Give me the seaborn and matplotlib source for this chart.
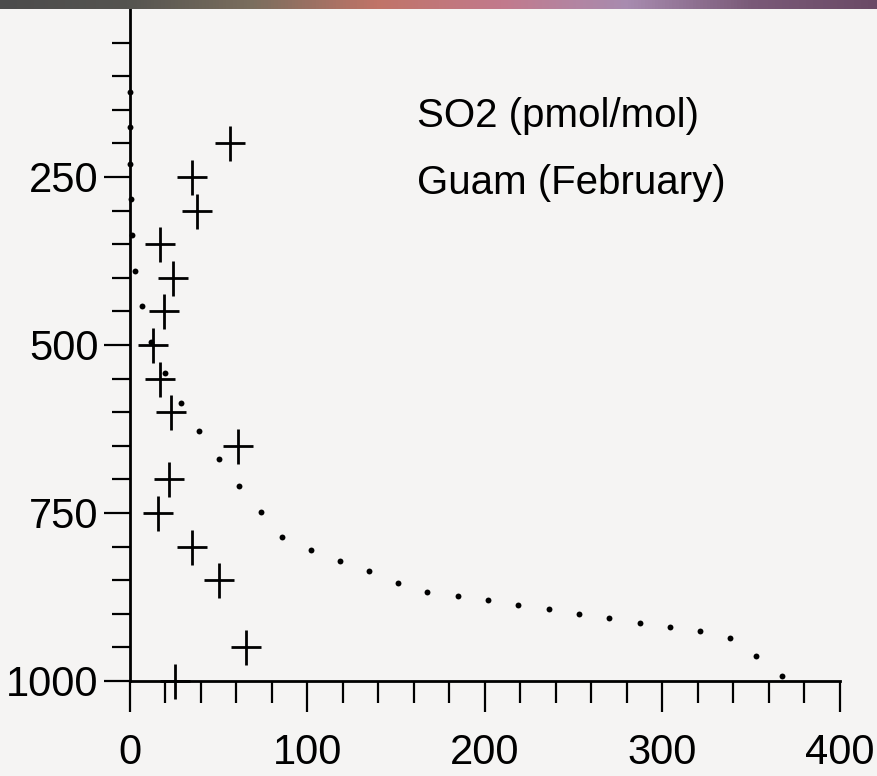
import numpy as np
import matplotlib
matplotlib.use("Agg")
import matplotlib.pyplot as plt
from matplotlib.path import Path
from matplotlib.colors import LinearSegmentedColormap
from matplotlib.ticker import MultipleLocator, FixedLocator
import seaborn as sns

# Model profile (dots): SO2 vs pressure level
model_so2 = [0, 0, 0.2, 0.7, 1.3, 3.0, 6.6, 11.8, 19.7, 28.6, 39.0, 50.1, 61.6,
             73.6, 85.8, 101.8, 118.1, 134.6, 151.0, 167.5, 184.6, 201.7, 218.8,
             235.9, 253.0, 270.0, 287.2, 304.2, 321.3, 337.9, 352.8, 367.3]
model_pres = [123, 176, 230, 283, 336, 390, 442, 495, 541, 586, 628, 670, 710,
              748, 786, 805, 821, 837, 854, 868, 874, 880, 887, 893, 900, 906,
              913, 919, 925, 936, 963, 992]

# Observations (crosses)
obs_so2 = [56.2, 35.1, 37.9, 17.1, 24.1, 19.2, 12.8, 17.1, 22.9, 61.0, 22.0,
           15.9, 35.1, 50.1, 65.2, 25.2]
obs_pres = [200, 250, 300, 350, 400, 450, 500, 550, 600, 650, 700, 750, 800,
            850, 950, 1000]

title_lines = ["SO2 (pmol/mol)", "Guam (February)"]

sns.set_style("white")
plt.rcParams['font.family'] = ['Liberation Sans', 'DejaVu Sans']
plt.rcParams['text.color'] = 'black'
plt.rcParams['xtick.color'] = 'black'
plt.rcParams['ytick.color'] = 'black'

bg = '#f5f4f3'
fig = plt.figure(figsize=(8.78, 7.76), dpi=100, facecolor=bg)
ax = fig.add_axes([130/878, 1-681/776, 710/878, 672/776])
ax.set_facecolor(bg)

# cross marker, a bit taller than wide
cross = Path([(-0.83, 0), (0.83, 0), (0, -1), (0, 1)],
             [Path.MOVETO, Path.LINETO, Path.MOVETO, Path.LINETO])

sns.scatterplot(x=model_so2, y=model_pres, ax=ax, color='black', s=18,
                linewidth=0, clip_on=False, zorder=3)
sns.scatterplot(x=obs_so2, y=obs_pres, ax=ax, marker=cross, s=25.2**2,
                color='black', edgecolor='black', linewidth=2,
                clip_on=False, zorder=4)

ax.set_xlim(0, 400)
ax.set_ylim(1000, 0)

for s in ['top', 'right']:
    ax.spines[s].set_visible(False)
for s in ['left', 'bottom']:
    ax.spines[s].set_color('black')
    ax.spines[s].set_linewidth(2)

ax.xaxis.set_major_locator(MultipleLocator(100))
ax.xaxis.set_minor_locator(MultipleLocator(20))
ax.yaxis.set_major_locator(FixedLocator([250, 500, 750, 1000]))
ax.yaxis.set_minor_locator(FixedLocator([v for v in range(50, 1000, 50) if v % 250]))

ax.tick_params(axis='x', which='major', direction='out', length=22.3, width=1.6,
               labelsize=30, pad=15, bottom=True)
ax.tick_params(axis='x', which='minor', direction='out', length=15.8, width=1.6,
               bottom=True)
ax.tick_params(axis='y', which='major', direction='out', length=18.7, width=1.6,
               labelsize=30, pad=4, left=True)
ax.tick_params(axis='y', which='minor', direction='out', length=13, width=1.6,
               left=True)
ax.set_xlabel('')
ax.set_ylabel('')

ax.text(417/878, 1-116/776, title_lines[0], transform=fig.transFigure,
        fontsize=29, va='center', ha='left')
ax.text(417/878, 1-183/776, title_lines[1], transform=fig.transFigure,
        fontsize=29, va='center', ha='left')

# dark gradient band along the top edge
band = fig.add_axes([0, 1-9/776, 1, 9/776])
band_cmap = LinearSegmentedColormap.from_list(
    'band', ['#4c4c4c', '#555450', '#7a6e5e', '#c07468', '#c27a8c', '#a88cb0',
             '#7a5a78', '#6a4a66'])
band.imshow(np.linspace(0, 1, 256)[None, :], aspect='auto', cmap=band_cmap)
band.axis('off')

fig.savefig('out.png', dpi=100, facecolor=bg)
